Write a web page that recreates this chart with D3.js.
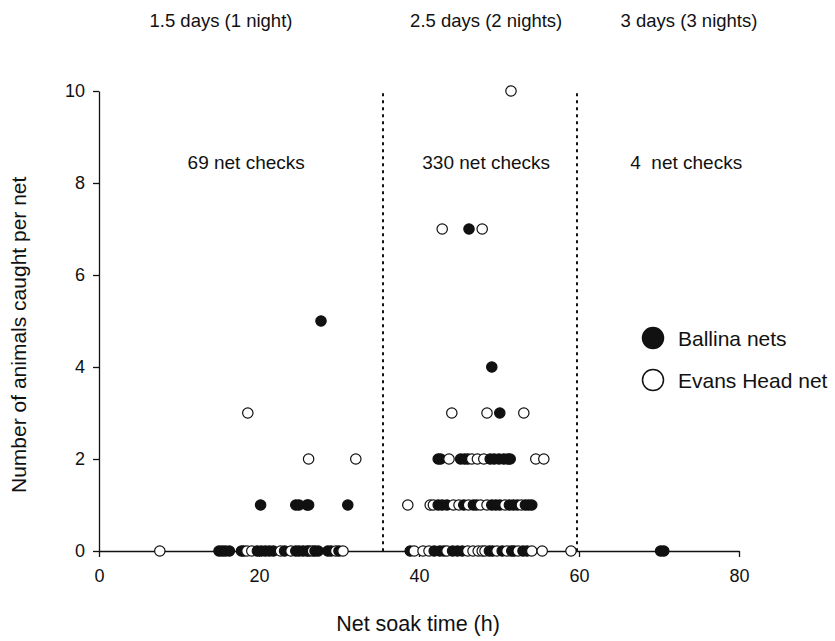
<!DOCTYPE html>
<html>
<head>
<meta charset="utf-8">
<script src="https://cdn.jsdelivr.net/npm/d3@7"></script>
<style>
  html, body { margin: 0; padding: 0; background: #fff; }
  svg { display: block; font-family: "Liberation Sans", Arial, Helvetica, sans-serif; }
</style>
</head>
<body>
<svg id="chart" width="835" height="641"></svg>
<script>
// Soak-time periods and the number of net checks in each
const periods = ["1.5 days (1 night)", "2.5 days (2 nights)", "3 days (3 nights)"];
const checks = ["69 net checks", "330 net checks", "4  net checks"];
const periodBreaks = [35.5, 59.75];

const xTicks = [0, 20, 40, 60, 80];
const yTicks = [0, 2, 4, 6, 8, 10];

// [net soak time (h), animals caught] for each net check
const ballina = [
  // 1 night
  [15.0, 0], [15.4, 0], [15.8, 0], [16.3, 0], [17.8, 0], [18.1, 0], [19.8, 0], [20.3, 0],
  [20.8, 0], [21.3, 0], [21.8, 0], [23.2, 0], [24.6, 0], [25.0, 0], [25.5, 0], [26.0, 0],
  [26.3, 0], [27.0, 0], [27.4, 0], [28.6, 0], [29.0, 0], [30.0, 0],
  [20.2, 1], [24.6, 1], [25.0, 1], [26.0, 1], [26.2, 1], [31.1, 1],
  [27.75, 5],
  // 2 nights
  [38.9, 0], [41.9, 0], [42.6, 0], [43.1, 0], [44.2, 0], [44.8, 0], [45.4, 0], [48.8, 0],
  [49.2, 0], [50.4, 0], [51.6, 0], [51.9, 0], [53.0, 0], [53.5, 0],
  [42.4, 1], [42.9, 1], [43.5, 1], [45.6, 1], [46.8, 1], [47.2, 1], [49.1, 1], [49.6, 1],
  [50.1, 1], [51.3, 1], [51.8, 1], [52.3, 1], [53.3, 1], [53.7, 1], [54.1, 1],
  [42.4, 2], [42.7, 2], [45.2, 2], [45.7, 2], [46.1, 2], [48.9, 2], [49.4, 2], [50.0, 2],
  [50.6, 2], [51.1, 2], [51.4, 2],
  [50.1, 3],
  [49.1, 4],
  [46.25, 7],
  // 3 nights
  [70.2, 0], [70.6, 0]
];

const evansHead = [
  // 1 night
  [7.6, 0], [18.5, 0], [19.1, 0], [22.7, 0], [24.0, 0], [26.7, 0], [29.6, 0], [30.5, 0],
  [26.2, 2], [32.1, 2],
  [18.6, 3],
  // 2 nights
  [39.4, 0], [40.5, 0], [41.25, 0], [43.5, 0], [46.1, 0], [46.75, 0], [47.4, 0], [47.9, 0],
  [48.25, 0], [49.75, 0], [51.0, 0], [52.4, 0], [54.1, 0], [55.4, 0], [59.0, 0],
  [38.6, 1], [41.4, 1], [41.8, 1], [44.3, 1], [45.0, 1], [46.2, 1], [47.7, 1], [48.5, 1],
  [50.75, 1], [52.8, 1],
  [43.75, 2], [46.6, 2], [47.3, 2], [48.1, 2], [54.6, 2], [55.6, 2],
  [44.1, 3], [48.5, 3], [53.1, 3],
  [42.9, 7], [47.9, 7],
  [51.5, 10]
];

const legendItems = [
  { label: "Ballina nets", filled: true },
  { label: "Evans Head net", filled: false }
];

const svg = d3.select("#chart");
const ink = "#111";

const x = d3.scaleLinear().domain([0, 80]).range([99, 739]);
const y = d3.scaleLinear().domain([0, 10]).range([551, 91]);

// Axes
const xAxis = svg.append("g")
  .attr("transform", `translate(0,${y(0)})`)
  .call(d3.axisBottom(x).tickValues(xTicks).tickSize(6).tickPadding(8).tickSizeOuter(0));
const yAxis = svg.append("g")
  .attr("transform", `translate(${x(0)},0)`)
  .call(d3.axisLeft(y).tickValues(yTicks).tickSize(6).tickPadding(8).tickSizeOuter(0));

[xAxis, yAxis].forEach(g => {
  g.select(".domain").attr("stroke", ink).attr("stroke-width", 1.3);
  g.selectAll(".tick line").attr("stroke", ink).attr("stroke-width", 1.3);
  g.selectAll(".tick text").attr("fill", ink).style("font-size", "18px")
    .style("font-family", "'Liberation Sans', Arial, sans-serif");
});
xAxis.selectAll(".tick text").attr("dy", "0.95em");

// Period separators
svg.append("g").selectAll("line")
  .data(periodBreaks)
  .join("line")
  .attr("x1", d => x(d)).attr("x2", d => x(d))
  .attr("y1", y(9.95)).attr("y2", y(0))
  .attr("stroke", ink)
  .attr("stroke-width", 2)
  .attr("stroke-dasharray", "3,4");

// Period titles and check counts
const titleX = [15.25, 48.4, 73.75];
const checksX = [18.4, 48.4, 73.4];
svg.append("g").selectAll("text")
  .data(periods)
  .join("text")
  .attr("x", (d, i) => x(titleX[i]))
  .attr("y", 27)
  .attr("text-anchor", "middle")
  .attr("fill", ink)
  .style("font-size", "18.5px")
  .text(d => d);

svg.append("g").selectAll("text")
  .data(checks)
  .join("text")
  .attr("x", (d, i) => x(checksX[i]))
  .attr("y", 169)
  .attr("text-anchor", "middle")
  .attr("fill", ink)
  .style("font-size", "19px")
  .style("white-space", "pre")
  .text(d => d);

// Points, drawn left to right so each marker overlaps the previous one
const points = ballina.map(d => ({ h: d[0], n: d[1], filled: true }))
  .concat(evansHead.map(d => ({ h: d[0], n: d[1], filled: false })))
  .sort((a, b) => a.h - b.h);

svg.append("g").selectAll("circle")
  .data(points)
  .join("circle")
  .attr("cx", d => x(d.h))
  .attr("cy", d => y(d.n))
  .attr("r", 5.2)
  .attr("fill", d => d.filled ? ink : "#fff")
  .attr("stroke", ink)
  .attr("stroke-width", 1.2);

// Legend
const legend = svg.append("g").attr("transform", "translate(653,338)");
const li = legend.selectAll("g")
  .data(legendItems)
  .join("g")
  .attr("transform", (d, i) => `translate(0,${i * 42})`);
li.append("circle")
  .attr("r", 10.5)
  .attr("fill", d => d.filled ? ink : "#fff")
  .attr("stroke", ink)
  .attr("stroke-width", 1.5);
li.append("text")
  .attr("x", 25)
  .attr("y", 8)
  .attr("fill", ink)
  .style("font-size", "21px")
  .text(d => d.label);

// Axis titles
svg.append("text")
  .attr("x", 418)
  .attr("y", 631)
  .attr("text-anchor", "middle")
  .attr("fill", ink)
  .style("font-size", "21.5px")
  .text("Net soak time (h)");

svg.append("text")
  .attr("transform", `translate(26,${y(4.7)}) rotate(-90)`)
  .attr("text-anchor", "middle")
  .attr("fill", ink)
  .style("font-size", "21px")
  .text("Number of animals caught per net");
</script>
</body>
</html>
